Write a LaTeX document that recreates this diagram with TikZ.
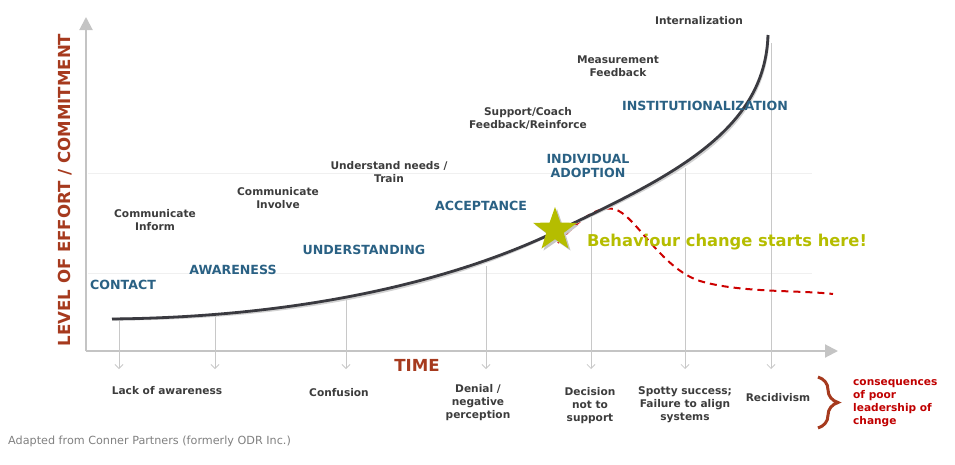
\documentclass[tikz,border=0pt]{standalone}
\usepackage{fontspec}
\setmainfont{DejaVu Sans}
\usetikzlibrary{arrows.meta,shapes.geometric,decorations.pathreplacing}
\definecolor{stageblue}{RGB}{42,97,132}
\definecolor{notegray}{RGB}{60,60,60}
\definecolor{axisbrown}{RGB}{166,58,30}
\definecolor{startolive}{RGB}{181,189,0}
\definecolor{dropred}{RGB}{204,0,0}
\definecolor{conseqred}{RGB}{192,0,0}
\definecolor{curvegray}{RGB}{58,58,64}
\definecolor{axisgray}{RGB}{196,196,196}
\definecolor{dropgray}{RGB}{200,200,200}

\begin{document}
\begin{tikzpicture}[x=1pt,y=-1pt,
  note/.style={text=notegray,font=\fontsize{10.6}{13}\selectfont\bfseries,align=center,inner sep=0pt},
  stage/.style={text=stageblue,font=\fontsize{12.6}{14}\selectfont\bfseries,align=center,inner sep=0pt},
  dropline/.style={draw=dropgray,line width=0.8pt,-{Straight Barb[length=4pt,width=8pt]}},
  axisline/.style={draw=axisgray,line width=2pt,-{Triangle[length=13pt,width=13pt]}},
]
  \useasboundingbox (0,0) rectangle (955,464);

  % Faint guide lines
  \foreach \y in {173,273}{
    \draw[gray!12,line width=1pt] (88,\y) -- (812,\y);
  }

  % Axes
  \coordinate (origin) at (86,351);
  \coordinate (ytip) at (86,17);
  \coordinate (xtip) at (838,351);
  \draw[axisline] (origin) -- (ytip);
  \draw[axisline] (origin) -- (xtip);
  \node[text=axisbrown,font=\fontsize{16.6}{18}\selectfont\bfseries,rotate=90,inner sep=0pt] (ylabel) at (65,190) {LEVEL OF EFFORT / COMMITMENT};
  \node[text=axisbrown,font=\fontsize{16.6}{18}\selectfont\bfseries,inner sep=0pt] (xlabel) at (417,365) {TIME};

  % Drop lines from the curve to the consequences
  \foreach \x/\top [count=\i] in {119/321,215/315,346/300,486/266,591/216,685/168,771/43}{
    \coordinate (top\i) at (\x,\top);
    \coordinate (bot\i) at (\x,369);
    \draw[dropline] (top\i) -- (bot\i);
  }

  % Poor leadership path (dashed)
  \draw[dropred,line width=2pt,dash pattern=on 7pt off 5pt]
    (558,243) .. controls (580,218) and (598,206) .. (614,209)
    .. controls (635,214) and (660,268) .. (700,281)
    .. controls (740,293) and (800,290) .. (833,294);

  % Change curve with a soft shadow
  \coordinate (cstart) at (112,319);
  \coordinate (cstar) at (555,232);
  \coordinate (cend) at (768,35);
  \draw[gray!35,line width=3pt,shift={(1.5,2)}]
    (cstart) .. controls (300,317) and (450,282) .. (cstar)
    .. controls (670,177) and (765,132) .. (cend);
  \draw[curvegray,line width=2.8pt]
    (cstart) .. controls (300,317) and (450,282) .. (cstar)
    .. controls (670,177) and (765,132) .. (cend);

  % Star where behaviour change starts
  \node[star,star points=5,star point ratio=2.5,fill=gray!45,minimum size=46pt,inner sep=0pt] (starshadow) at (557,232) {};
  \node[star,star points=5,star point ratio=2.5,fill=startolive,minimum size=46pt,inner sep=0pt] (startstar) at (555,230) {};
  \node[text=startolive,font=\fontsize{16.3}{18}\selectfont\bfseries,inner sep=0pt] (starthere) at (727,242) {Behaviour change starts here!};

  % Stages
  \node[stage] (contact) at (123,285) {CONTACT};
  \node[stage] (awareness) at (233,270) {AWARENESS};
  \node[stage] (understanding) at (364,250) {UNDERSTANDING};
  \node[stage] (acceptance) at (481,206) {ACCEPTANCE};
  \node[stage] (adoption) at (588,166) {INDIVIDUAL\\ADOPTION};
  \node[stage] (institution) at (705,106) {INSTITUTIONALIZATION};

  % Actions above the curve
  \node[note] (inform) at (155,220) {Communicate\\Inform};
  \node[note] (involve) at (278,198.5) {Communicate\\Involve};
  \node[note] (train) at (389,172.5) {Understand needs /\\Train};
  \node[note] (coach) at (528,118.5) {Support/Coach\\Feedback/Reinforce};
  \node[note] (measure) at (618,66.5) {Measurement\\Feedback};
  \node[note] (internal) at (699,21) {Internalization};

  % Consequences below the axis
  \node[note] (lack) at (167,391) {Lack of awareness};
  \node[note] (confusion) at (339,393) {Confusion};
  \node[note] (denial) at (478,403) {Denial /\\negative\\perception};
  \node[note] (decision) at (590,406) {Decision\\not to\\support};
  \node[note] (spotty) at (685,405) {Spotty success;\\Failure to align\\systems};
  \node[note] (recid) at (778,398) {Recidivism};

  % Brace and its note
  \coordinate (bracetop) at (818,377);
  \coordinate (bracebot) at (818,428);
  \draw[axisbrown,line width=3pt,decorate,decoration={brace,amplitude=20pt,aspect=0.5}] (bracetop) -- (bracebot);
  \node[note,text=conseqred,align=left,anchor=west] (conseq) at (853,403.5) {consequences\\of poor\\leadership of\\change};

  % Source
  \node[text=gray,font=\fontsize{11.2}{13}\selectfont,anchor=west,inner sep=0pt] (source) at (8,441) {Adapted from Conner Partners (formerly ODR Inc.)};
\end{tikzpicture}
\end{document}
